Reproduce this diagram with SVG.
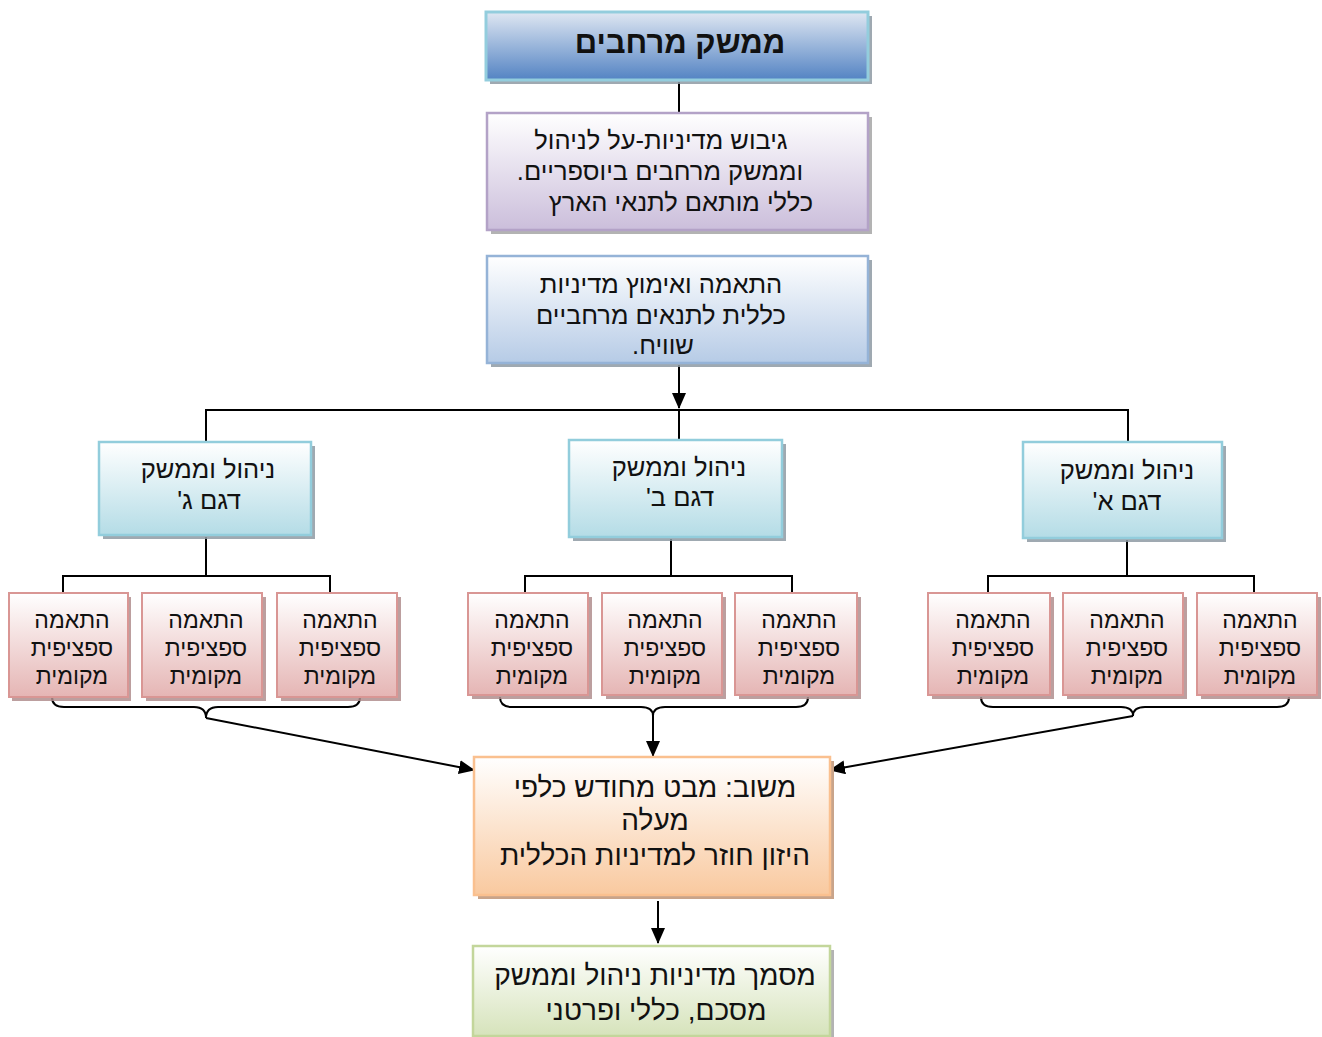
<svg xmlns="http://www.w3.org/2000/svg" width="1322" height="1037" viewBox="0 0 1322 1037">
<defs>
<linearGradient id="gTitle" x1="0" y1="0" x2="0" y2="1"><stop offset="0" stop-color="#dfe7f2"/><stop offset="1" stop-color="#5383c3"/></linearGradient>
<linearGradient id="gPurple" x1="0" y1="0" x2="0" y2="1"><stop offset="0" stop-color="#ffffff"/><stop offset="1" stop-color="#cbbedb"/></linearGradient>
<linearGradient id="gBlue" x1="0" y1="0" x2="0" y2="1"><stop offset="0" stop-color="#ffffff"/><stop offset="1" stop-color="#b6cbe6"/></linearGradient>
<linearGradient id="gCyan" x1="0" y1="0" x2="0" y2="1"><stop offset="0" stop-color="#ffffff"/><stop offset="1" stop-color="#b4dce6"/></linearGradient>
<linearGradient id="gPink" x1="0" y1="0" x2="0" y2="1"><stop offset="0" stop-color="#ffffff"/><stop offset="1" stop-color="#e5b5b4"/></linearGradient>
<linearGradient id="gOrange" x1="0" y1="0" x2="0" y2="1"><stop offset="0" stop-color="#ffffff"/><stop offset="1" stop-color="#f9c99f"/></linearGradient>
<linearGradient id="gGreen" x1="0" y1="0" x2="0" y2="1"><stop offset="0" stop-color="#ffffff"/><stop offset="1" stop-color="#d6e3bb"/></linearGradient>
<marker id="arr" markerUnits="userSpaceOnUse" markerWidth="16" markerHeight="14" refX="15" refY="7" orient="auto"><path d="M0,0 L16,7 L0,14 Z" fill="#000"/></marker>
</defs>
<style>
text{font-family:"Liberation Sans","DejaVu Sans",sans-serif;fill:#111;text-anchor:middle;direction:rtl}
.sh{fill:#8e9aa3;opacity:0.85}
.shp{fill:#b08e8e;opacity:0.85}
.shg{fill:#a6a6a6;opacity:0.85}
.conn{fill:none;stroke:#000;stroke-width:2}
.t25{font-size:25.5px}
.t23{font-size:23px}
.t28{font-size:28px}
.loc rect.b{fill:url(#gPink);stroke:#d99694;stroke-width:2}
.mid rect.b{fill:url(#gCyan);stroke:#92cddc;stroke-width:2.5}
</style>

<g id="connectors">
<line class="conn" x1="679" y1="82" x2="679" y2="112"/>
<line class="conn" x1="679" y1="365" x2="679" y2="408" marker-end="url(#arr)"/>
<polyline class="conn" points="206,442 206,410 1128,410 1128,442"/>
<line class="conn" x1="679" y1="410" x2="679" y2="440"/>
<polyline class="conn" points="63,593 63,576 330,576 330,593"/>
<line class="conn" x1="206" y1="537" x2="206" y2="576"/>
<polyline class="conn" points="525,593 525,576 792,576 792,593"/>
<line class="conn" x1="671" y1="539" x2="671" y2="576"/>
<polyline class="conn" points="988,593 988,576 1254,576 1254,593"/>
<line class="conn" x1="1127" y1="540" x2="1127" y2="576"/>
<path class="conn" d="M52,697 Q52,707 64,707 L194,707 Q206,707 206,718 Q206,707 218,707 L348,707 Q360,707 360,697"/>
<path class="conn" d="M500,697 Q500,707 512,707 L641,707 Q653,707 653,716 Q653,707 665,707 L796,707 Q808,707 808,697"/>
<path class="conn" d="M981,697 Q981,707 993,707 L1121,707 Q1133,707 1133,716 Q1133,707 1145,707 L1277,707 Q1289,707 1289,697"/>
<line class="conn" x1="206" y1="718" x2="474" y2="770" marker-end="url(#arr)"/>
<line class="conn" x1="653" y1="716" x2="653" y2="756" marker-end="url(#arr)"/>
<line class="conn" x1="1133" y1="716" x2="830" y2="770" marker-end="url(#arr)"/>
<line class="conn" x1="658" y1="901" x2="658" y2="943" marker-end="url(#arr)"/>
</g>

<g id="title">
<rect class="sh" x="490" y="16" width="382" height="68"/>
<rect x="486" y="12" width="382" height="68" fill="url(#gTitle)" stroke="#93cddd" stroke-width="3"/>
<text x="680" y="53" font-size="31" font-weight="bold">ממשק מרחבים</text>
</g>

<g id="policy">
<rect class="shg" x="491" y="117" width="381" height="117"/>
<rect x="487" y="113" width="381" height="117" fill="url(#gPurple)" stroke="#b3a2c7" stroke-width="2.5"/>
<text class="t25" x="661" y="149">גיבוש מדיניות-על לניהול</text>
<text class="t25" x="660" y="180">וממשק מרחבים ביוספריים.</text>
<text class="t25" x="681" y="211">כללי מותאם לתנאי הארץ</text>
</g>

<g id="adapt">
<rect class="sh" x="491" y="260" width="381" height="107"/>
<rect x="487" y="256" width="381" height="107" fill="url(#gBlue)" stroke="#95b3d7" stroke-width="2.5"/>
<text class="t25" x="661" y="293">התאמה ואימוץ מדיניות</text>
<text class="t25" x="661" y="324">כללית לתנאים מרחביים</text>
<text class="t25" x="663" y="354">שוויח.</text>
</g>

<g id="model-g" class="mid">
<rect class="sh" x="103" y="446" width="212" height="93"/>
<rect class="b" x="99" y="442" width="212" height="93"/>
<text class="t25" x="208" y="478">ניהול וממשק</text>
<text class="t25" x="209" y="509">דגם ג'</text>
</g>
<g id="model-b" class="mid">
<rect class="sh" x="573" y="444" width="213" height="97"/>
<rect class="b" x="569" y="440" width="213" height="97"/>
<text class="t25" x="679" y="476">ניהול וממשק</text>
<text class="t25" x="680" y="506">דגם ב'</text>
</g>
<g id="model-a" class="mid">
<rect class="sh" x="1027" y="446" width="199" height="96"/>
<rect class="b" x="1023" y="442" width="199" height="96"/>
<text class="t25" x="1127" y="479">ניהול וממשק</text>
<text class="t25" x="1127" y="510">דגם א'</text>
</g>

<g id="local-g1" class="loc">
<rect class="shp" x="12" y="597" width="119" height="104"/>
<rect class="b" x="9" y="593" width="119" height="104"/>
<text class="t23" x="72" y="628">התאמה</text><text class="t23" x="72" y="656">ספציפית</text><text class="t23" x="72" y="684">מקומית</text>
</g>
<g id="local-g2" class="loc">
<rect class="shp" x="146" y="597" width="120" height="104"/>
<rect class="b" x="142" y="593" width="120" height="104"/>
<text class="t23" x="206" y="628">התאמה</text><text class="t23" x="206" y="656">ספציפית</text><text class="t23" x="206" y="684">מקומית</text>
</g>
<g id="local-g3" class="loc">
<rect class="shp" x="281" y="597" width="120" height="104"/>
<rect class="b" x="277" y="593" width="120" height="104"/>
<text class="t23" x="340" y="628">התאמה</text><text class="t23" x="340" y="656">ספציפית</text><text class="t23" x="340" y="684">מקומית</text>
</g>

<g id="local-b1" class="loc">
<rect class="shp" x="472" y="597" width="120" height="102"/>
<rect class="b" x="468" y="593" width="120" height="102"/>
<text class="t23" x="532" y="628">התאמה</text><text class="t23" x="532" y="656">ספציפית</text><text class="t23" x="532" y="684">מקומית</text>
</g>
<g id="local-b2" class="loc">
<rect class="shp" x="606" y="597" width="120" height="102"/>
<rect class="b" x="602" y="593" width="120" height="102"/>
<text class="t23" x="665" y="628">התאמה</text><text class="t23" x="665" y="656">ספציפית</text><text class="t23" x="665" y="684">מקומית</text>
</g>
<g id="local-b3" class="loc">
<rect class="shp" x="739" y="597" width="122" height="102"/>
<rect class="b" x="735" y="593" width="122" height="102"/>
<text class="t23" x="799" y="628">התאמה</text><text class="t23" x="799" y="656">ספציפית</text><text class="t23" x="799" y="684">מקומית</text>
</g>

<g id="local-a1" class="loc">
<rect class="shp" x="932" y="597" width="122" height="102"/>
<rect class="b" x="928" y="593" width="122" height="102"/>
<text class="t23" x="993" y="628">התאמה</text><text class="t23" x="993" y="656">ספציפית</text><text class="t23" x="993" y="684">מקומית</text>
</g>
<g id="local-a2" class="loc">
<rect class="shp" x="1067" y="597" width="120" height="102"/>
<rect class="b" x="1063" y="593" width="120" height="102"/>
<text class="t23" x="1127" y="628">התאמה</text><text class="t23" x="1127" y="656">ספציפית</text><text class="t23" x="1127" y="684">מקומית</text>
</g>
<g id="local-a3" class="loc">
<rect class="shp" x="1201" y="597" width="120" height="102"/>
<rect class="b" x="1197" y="593" width="120" height="102"/>
<text class="t23" x="1260" y="628">התאמה</text><text class="t23" x="1260" y="656">ספציפית</text><text class="t23" x="1260" y="684">מקומית</text>
</g>

<g id="feedback">
<rect x="478" y="761" width="356" height="138" fill="#c9a48a"/>
<rect x="474" y="757" width="356" height="138" fill="url(#gOrange)" stroke="#fac08f" stroke-width="2.5"/>
<text class="t28" x="655" y="797">משוב: מבט מחודש כלפי</text>
<text class="t28" x="655" y="830">מעלה</text>
<text class="t28" x="655" y="865">היזון חוזר למדיניות הכללית</text>
</g>

<g id="summary">
<rect class="shg" x="477" y="950" width="357" height="90"/>
<rect x="473" y="946" width="357" height="90" fill="url(#gGreen)" stroke="#c3d69b" stroke-width="2.5"/>
<text class="t28" x="655" y="985">מסמך מדיניות ניהול וממשק</text>
<text class="t28" x="656" y="1020">מסכם, כללי ופרטני</text>
</g>
</svg>
